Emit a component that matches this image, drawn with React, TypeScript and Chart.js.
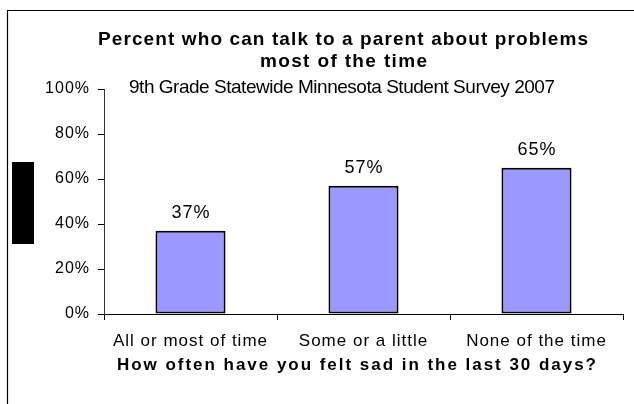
import React, { useEffect, useRef } from "react";
import { Chart, registerables } from "chart.js";

Chart.register(...registerables);

const categories = ["All or most of time", "Some or a little", "None of the time"];
const values = [37, 57, 65];
const yMin = 0;
const yMax = 100;
const yStep = 20;
const titleLine1 = "Percent who can talk to a parent about problems";
const titleLine2 = "most of the time";
const subtitle = "9th Grade Statewide Minnesota Student Survey 2007";
const xAxisTitle = "How often have you felt sad in the last 30 days?";

const FONT = "'Liberation Sans', Arial, sans-serif";

function drawFitted(
  ctx: CanvasRenderingContext2D,
  text: string,
  font: string,
  x0: number,
  x1: number,
  baseline: number
) {
  ctx.save();
  ctx.font = font;
  (ctx as any).letterSpacing = "0px";
  const w = ctx.measureText(text).width;
  const n = [...text].length;
  const ls = (x1 - x0 - w) / (n - 1);
  (ctx as any).letterSpacing = ls + "px";
  ctx.fillStyle = "#000";
  ctx.textAlign = "left";
  ctx.textBaseline = "alphabetic";
  ctx.fillText(text, x0, baseline);
  ctx.restore();
}

const decorPlugin = {
  id: "decor",
  beforeDraw(chart: any) {
    const ctx = chart.ctx as CanvasRenderingContext2D;
    ctx.save();
    ctx.fillStyle = "#fff";
    ctx.fillRect(0, 0, chart.width, chart.height);
    ctx.strokeStyle = "#000";
    ctx.lineWidth = 1.2;
    ctx.beginPath();
    ctx.moveTo(7.5, 404);
    ctx.lineTo(7.5, 10.5);
    ctx.lineTo(634, 10.5);
    ctx.stroke();
    ctx.fillStyle = "#000";
    ctx.fillRect(12, 162, 22, 82);
    ctx.restore();
    // slight tracking for axis tick labels, as in the reference
    (ctx as any).letterSpacing = "1px";
  },
  afterDraw(chart: any) {
    const ctx = chart.ctx as CanvasRenderingContext2D;
    drawFitted(ctx, titleLine1, `bold 19px ${FONT}`, 98, 588, 45);
    drawFitted(ctx, titleLine2, `bold 19px ${FONT}`, 260, 427, 67);
    drawFitted(ctx, subtitle, `19px ${FONT}`, 129, 555, 92.5);
    drawFitted(ctx, xAxisTitle, `bold 17px ${FONT}`, 117, 596, 370);
    (ctx as any).letterSpacing = "0px";
  },
  afterDatasetsDraw(chart: any) {
    const ctx = chart.ctx as CanvasRenderingContext2D;
    const meta = chart.getDatasetMeta(0);
    ctx.save();
    ctx.font = `18px ${FONT}`;
    (ctx as any).letterSpacing = "1px";
    ctx.fillStyle = "#000";
    ctx.textAlign = "center";
    ctx.textBaseline = "alphabetic";
    meta.data.forEach((bar: any, i: number) => {
      ctx.fillText(values[i] + "%", bar.x + 0.5, bar.y - 13);
    });
    ctx.restore();
  },
};

export default function App() {
  const ref = useRef<HTMLCanvasElement>(null);
  useEffect(() => {
    if (!ref.current) return;
    const chart = new Chart(ref.current, {
      type: "bar",
      data: {
        labels: categories,
        datasets: [
          {
            data: values,
            backgroundColor: "#9999FF",
            borderColor: "#000000",
            borderWidth: 2,
            borderSkipped: false,
            categoryPercentage: 1,
            barPercentage: 0.405,
          },
        ],
      },
      options: {
        animation: false,
        responsive: false,
        devicePixelRatio: 1,
        layout: { padding: { left: 0, top: 89, right: 11, bottom: 0 } },
        plugins: {
          legend: { display: false },
          title: { display: false },
          tooltip: { enabled: false },
        },
        scales: {
          x: {
            afterFit: (s: any) => {
              s.height = 90;
            },
            grid: {
              drawOnChartArea: false,
              drawTicks: true,
              tickLength: 6,
              color: "#000",
              offset: true,
            },
            border: { color: "#000", width: 1 },
            ticks: {
              color: "#000",
              font: { family: FONT, size: 17 },
              padding: 11,
              maxRotation: 0,
              autoSkip: false,
            },
          },
          y: {
            min: yMin,
            max: yMax,
            afterFit: (s: any) => {
              s.width = 104;
            },
            grid: {
              drawOnChartArea: false,
              drawTicks: true,
              tickLength: 6,
              color: "#000",
            },
            border: { color: "#333", width: 1 },
            ticks: {
              stepSize: yStep,
              color: "#000",
              font: { family: FONT, size: 16 },
              padding: 8,
              callback: (v: any) => v + "%",
            },
          },
        },
      },
      plugins: [decorPlugin],
    });
    return () => chart.destroy();
  }, []);
  return (
    <canvas
      ref={ref}
      width={634}
      height={404}
      style={{ position: "fixed", left: 0, top: 0, width: 634, height: 404 }}
    />
  );
}
